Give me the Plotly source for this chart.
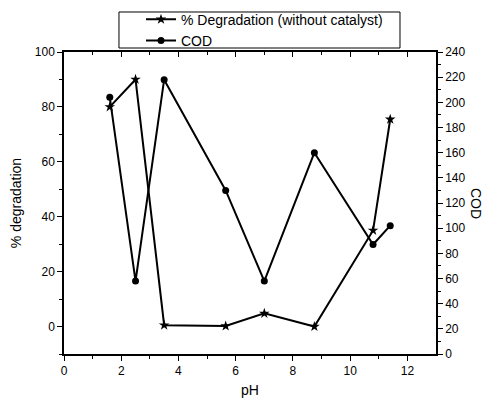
import plotly.graph_objects as go

ph = [1.6, 2.5, 3.5, 5.65, 7.0, 8.75, 10.8, 11.4]
degradation = [80, 90, 0.5, 0.2, 4.8, 0, 35, 75.5]
cod = [204, 58, 218, 130, 58, 160, 87, 102]

FONT = "Liberation Sans, Arial, sans-serif"

fig = go.Figure()
fig.add_trace(go.Scatter(
    x=ph, y=degradation, mode="lines+markers", name="% Degradation (without catalyst)",
    line=dict(color="black", width=2),
    marker=dict(symbol="star", size=8, color="black"),
    xaxis="x", yaxis="y"))
fig.add_trace(go.Scatter(
    x=ph, y=cod, mode="lines+markers", name="COD",
    line=dict(color="black", width=2),
    marker=dict(symbol="circle", size=7, color="black"),
    xaxis="x", yaxis="y2"))
fig.add_trace(go.Scatter(x=[0], y=[None], xaxis="x2", yaxis="y", showlegend=False, hoverinfo="skip"))

axcommon = dict(showline=True, linecolor="black", linewidth=1.5, showgrid=False,
                zeroline=False, ticks="outside", ticklen=5, tickwidth=1.2,
                tickcolor="black", tickfont=dict(family=FONT, size=12, color="black"))

fig.update_layout(
    width=488, height=398,
    margin=dict(l=64, r=52, t=52, b=44, autoexpand=False),
    paper_bgcolor="white", plot_bgcolor="white",
    font=dict(family=FONT, color="black"),
    xaxis=dict(range=[0, 13], tickvals=[0, 2, 4, 6, 8, 10, 12],
               minor=dict(tickvals=[1, 3, 5, 7, 9, 11], ticks="outside", ticklen=3, tickcolor="black", tickwidth=1.2),
               title=dict(text="pH", font=dict(family=FONT, size=14), standoff=12),
               **axcommon),
    xaxis2=dict(range=[0, 13], overlaying="x", side="top", showline=True, linecolor="black",
                linewidth=1.5, ticks="inside", ticklen=5, tickwidth=1.2, tickcolor="black",
                tickvals=[0, 2, 4, 6, 8, 10, 12], showticklabels=False, showgrid=False, zeroline=False,
                minor=dict(tickvals=[1, 3, 5, 7, 9, 11], ticks="inside", ticklen=3, tickcolor="black", tickwidth=1.2)),
    yaxis=dict(range=[-10, 100], tickvals=[0, 20, 40, 60, 80, 100],
               minor=dict(tickvals=[-10, 10, 30, 50, 70, 90], ticks="outside", ticklen=3, tickcolor="black", tickwidth=1.2),
               title=dict(text="% degradation", font=dict(family=FONT, size=14), standoff=10),
               **axcommon),
    yaxis2=dict(range=[0, 240], overlaying="y", side="right",
                tickvals=list(range(0, 241, 20)),
                minor=dict(tickvals=list(range(10, 240, 20)), ticks="outside", ticklen=3, tickcolor="black", tickwidth=1.2),
                **axcommon),
    legend=dict(x=0.207, y=1.16, xanchor="left", yanchor="top",
                borderwidth=0, bgcolor="rgba(0,0,0,0)",
                font=dict(family=FONT, size=14), tracegroupgap=0, itemwidth=30),
    shapes=[dict(type="rect", xref="paper", yref="paper", x0=0.1478, x1=0.9032, y0=1.0132, y1=1.1325,
                 line=dict(color="black", width=1), fillcolor="rgba(0,0,0,0)")],
    annotations=[dict(text="COD", x=1.0, xref="paper", xshift=50, y=0.5, yref="paper",
                      showarrow=False, textangle=90, font=dict(family=FONT, size=14))],
)

fig.write_html("out.html")
